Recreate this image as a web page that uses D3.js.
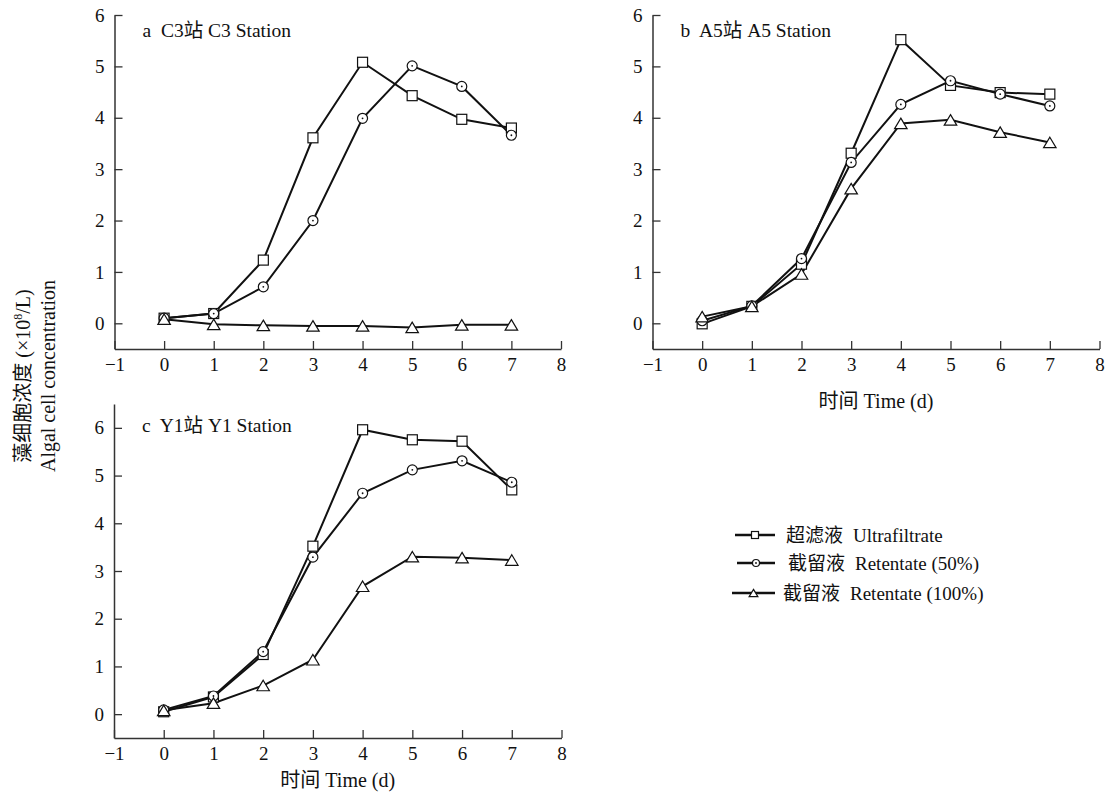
<html>
<head>
<meta charset="utf-8">
<script src="https://d3js.org/d3.v7.min.js"></script>
<style>
body { margin: 0; background: #fff; }
text { font-family: "Liberation Serif", "Noto Sans CJK SC", serif; fill: #111; }
</style>
</head>
<body>
<div id="chart"></div>
<script>

const days = [0, 1, 2, 3, 4, 5, 6, 7];
const xTicks = [-1, 0, 1, 2, 3, 4, 5, 6, 7, 8];
const yTicks = [0, 1, 2, 3, 4, 5, 6];

// legend names
const namesCn = ["超滤液", "截留液", "截留液"];
const namesEn = ["Ultrafiltrate", "Retentate (50%)", "Retentate (100%)"];
const symbols = ["square", "circle", "triangle"];

// C3 station
const c3Ultra  = [0.10, 0.19, 1.23, 3.61, 5.08, 4.43, 3.97, 3.80];
const c3Ret50  = [0.10, 0.19, 0.71, 2.00, 3.99, 5.01, 4.61, 3.66];
const c3Ret100 = [0.08, -0.02, -0.04, -0.05, -0.05, -0.08, -0.03, -0.03];

// A5 station
const a5Ultra  = [-0.01, 0.33, 1.15, 3.31, 5.52, 4.63, 4.49, 4.46];
const a5Ret50  = [0.05, 0.34, 1.26, 3.13, 4.26, 4.72, 4.46, 4.23];
const a5Ret100 = [0.13, 0.33, 0.96, 2.62, 3.89, 3.96, 3.72, 3.52];

// Y1 station
const y1Ultra  = [0.05, 0.36, 1.25, 3.52, 5.96, 5.75, 5.72, 4.70];
const y1Ret50  = [0.09, 0.38, 1.31, 3.29, 4.63, 5.12, 5.31, 4.86];
const y1Ret100 = [0.08, 0.23, 0.60, 1.14, 2.68, 3.30, 3.28, 3.23];

const panels = [
  { title: "a  C3站 C3 Station", series: [c3Ultra, c3Ret50, c3Ret100],
    left: 114.5, right: 561, top: 15, bottom: 349, yMax: 6, titleY: 37, xLabelY: null },
  { title: "b  A5站 A5 Station", series: [a5Ultra, a5Ret50, a5Ret100],
    left: 652.5, right: 1099.5, top: 15, bottom: 349, yMax: 6, titleY: 37, xLabelY: 408 },
  { title: "c  Y1站 Y1 Station", series: [y1Ultra, y1Ret50, y1Ret100],
    left: 114, right: 561.5, top: 404, bottom: 738, yMax: 6.5, titleY: 432, xLabelY: 787 }
];

const svg = d3.select("#chart").append("svg")
  .attr("width", 1107)
  .attr("height", 796);

function drawMarker(g, type, x, y, s) {
  if (type === "square") {
    g.append("rect")
      .attr("x", x - s / 2).attr("y", y - s / 2)
      .attr("width", s).attr("height", s)
      .attr("fill", "#fff").attr("stroke", "#111").attr("stroke-width", 1.2);
  } else if (type === "circle") {
    g.append("circle")
      .attr("cx", x).attr("cy", y).attr("r", s / 2)
      .attr("fill", "#fff").attr("stroke", "#111").attr("stroke-width", 1.2);
    g.append("circle")
      .attr("cx", x).attr("cy", y).attr("r", 0.9)
      .attr("fill", "#111");
  } else {
    const w = s * 1.25, h = s * 1.05;
    g.append("path")
      .attr("d", `M${x},${y - h / 2}L${x + w / 2},${y + h / 2}L${x - w / 2},${y + h / 2}Z`)
      .attr("fill", "#fff").attr("stroke", "#111").attr("stroke-width", 1.2);
  }
}

panels.forEach(function (p) {
  const x = d3.scaleLinear().domain([-1, 8]).range([p.left, p.right]);
  const y = d3.scaleLinear().domain([-0.5, p.yMax]).range([p.bottom, p.top]);
  const g = svg.append("g");

  const xAxis = g.append("g")
    .attr("transform", `translate(0,${p.bottom})`)
    .call(d3.axisBottom(x).tickValues(xTicks).tickFormat(d3.format("d"))
      .tickSizeInner(-8).tickSizeOuter(0).tickPadding(9));
  const yAxis = g.append("g")
    .attr("transform", `translate(${p.left},0)`)
    .call(d3.axisLeft(y).tickValues(yTicks).tickFormat(d3.format("d"))
      .tickSizeInner(-8).tickSizeOuter(0).tickPadding(10));

  [xAxis, yAxis].forEach(function (a) {
    a.attr("font-family", "Liberation Serif").attr("font-size", 19);
    a.select(".domain").attr("stroke", "#333").attr("stroke-width", 1.5);
    a.selectAll(".tick line").attr("stroke", "#333").attr("stroke-width", 1.3);
    a.selectAll(".tick text").attr("fill", "#111");
  });

  g.append("text")
    .attr("x", p.left + 28)
    .attr("y", p.titleY)
    .style("white-space", "pre")
    .attr("font-size", 19.5)
    .text(p.title);

  if (p.xLabelY) {
    g.append("text")
      .attr("x", (p.left + p.right) / 2)
      .attr("y", p.xLabelY)
      .attr("text-anchor", "middle")
      .attr("font-size", 20)
      .text("时间 Time (d)");
  }

  const line = d3.line()
    .x(function (d, i) { return x(days[i]); })
    .y(function (d) { return y(d); });

  p.series.forEach(function (s) {
    g.append("path")
      .datum(s)
      .attr("d", line)
      .attr("fill", "none")
      .attr("stroke", "#111")
      .attr("stroke-width", 2);
  });

  p.series.forEach(function (s, k) {
    s.forEach(function (v, i) {
      drawMarker(g, symbols[k], x(days[i]), y(v), 10);
    });
  });
});

// y axis title
const yTitle = svg.append("text")
  .attr("transform", "translate(30,376) rotate(-90)")
  .attr("text-anchor", "middle")
  .attr("font-size", 20);
yTitle.append("tspan").text("藻细胞浓度 (×10");
yTitle.append("tspan").attr("font-size", 12).attr("dy", -8).text("8");
yTitle.append("tspan").attr("dy", 8).text("/L)");

svg.append("text")
  .attr("transform", "translate(55,376) rotate(-90)")
  .attr("text-anchor", "middle")
  .attr("font-size", 20)
  .text("Algal cell concentration");

// legend
const legendX = [735, 737, 732];
const legendY = [535, 563, 593];
const legend = svg.append("g");
namesCn.forEach(function (n, k) {
  const ly = legendY[k];
  legend.append("line")
    .attr("x1", legendX[k]).attr("x2", 775)
    .attr("y1", ly).attr("y2", ly)
    .attr("stroke", "#111").attr("stroke-width", 2.5);
  drawMarker(legend, symbols[k], (legendX[k] + 775) / 2, ly, 7);
  const t = legend.append("text")
    .attr("x", legendX[k] + 51)
    .attr("y", ly + 7)
    .attr("font-size", 19);
  t.append("tspan")
    .attr("font-family", "Noto Sans CJK SC")
    .attr("font-size", 19)
    .text(n);
  t.append("tspan")
    .attr("dx", 10)
    .text(namesEn[k]);
});

</script>
</body>
</html>
